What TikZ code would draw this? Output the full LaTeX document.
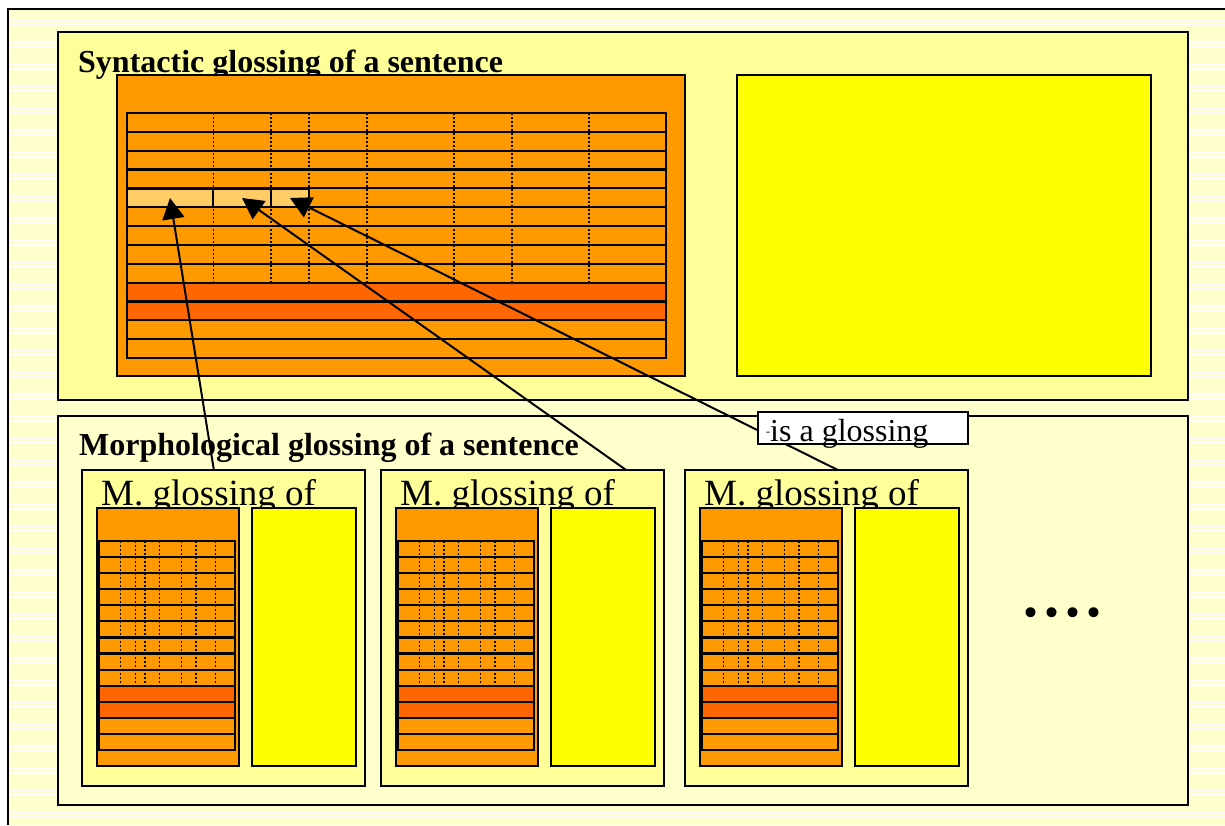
\documentclass[tikz,border=0pt]{standalone}
\usepackage{fontspec}
\setmainfont{Liberation Serif}
\usetikzlibrary{arrows.meta,calc,fit}
\definecolor{bgyel}{HTML}{FFFFCC}
\definecolor{paleyel}{HTML}{FFFF99}
\definecolor{orA}{HTML}{FF9900}
\definecolor{orD}{HTML}{FF6600}
\definecolor{orL}{HTML}{FFCC66}
\definecolor{yelB}{HTML}{FFFF00}
\tikzset{
 gbox/.style={draw=black, line width=2.5pt, inner sep=0pt, outer sep=0pt},
 gpanel/.style={gbox, fill=paleyel},
 gpanelL/.style={gbox, fill=bgyel},
 gorange/.style={gbox, fill=orA},
 gyellow/.style={gbox, fill=yelB},
 tline/.style={line width=2.2pt},
 dotline/.style={line width=1.4pt, dash pattern=on 2pt off 2pt},
 gcell/.style={draw, line width=2.2pt, fill=orL, inner sep=0pt, outer sep=0pt},
 glink/.style={line width=2pt, -{Triangle[length=21pt,width=22pt]}},
 gtitle/.style={font=\fontsize{32}{38}\selectfont\bfseries, anchor=base west, inner sep=0pt},
 gsub/.style={font=\fontsize{37}{40}\selectfont, anchor=base west, inner sep=0pt},
 glabbox/.style={draw, line width=1.4pt, fill=white, inner sep=0pt},
}
\newcommand\gtable[4]{%
  \pgfmathsetmacro\ga{#1}\pgfmathsetmacro\gb{#2}%
  \pgfmathsetmacro\gc{#3}\pgfmathsetmacro\gd{#4}%
  \pgfmathsetmacro\rh{(\gd-\gb)/13}%
  \pgfmathsetmacro\gw{\gc-\ga}%
  \fill[orA] (\ga,\gb) rectangle (\gc,\gd);
  \fill[orD] (\ga,{\gb+9*\rh}) rectangle (\gc,{\gb+11*\rh});
  \foreach \f in {0.16,0.267,0.338,0.445,0.607,0.714,0.857}
    \draw[dotline] ({\ga+\f*\gw},\gb) -- ({\ga+\f*\gw},{\gb+9*\rh});
  \foreach \i in {1,...,12} \draw[tline] (\ga,{\gb+\i*\rh}) -- (\gc,{\gb+\i*\rh});
  \draw[tline] (\ga,\gb) rectangle (\gc,\gd);
}
\begin{document}
\begin{tikzpicture}[x=1pt,y=-1pt]
\useasboundingbox (0,0) rectangle (1225,825);
\fill[white] (0,0) rectangle (1225,825);
% striped background
\fill[bgyel] (8,9) rectangle (1225,825);
\foreach \y in {11.5,15.9,...,825} \draw[white, line width=1.1pt] (8,\y) -- (1225,\y);
\draw[line width=2.5pt] (8,825) -- (8,9) -- (1225,9);

% syntactic panel
\node[gpanel, fit={(58,32) (1188,400)}] (top) {};
\node[gtitle] (ttop) at (78,72) {Syntactic glossing of a sentence};
\node[gorange, fit={(117,75) (685,376)}] (tor) {};
\gtable{127}{113}{666}{358}
\node[gcell, fit={(127,189) (213,207)}] (c1) {};
\node[gcell, fit={(213,189) (271,207)}] (c2) {};
\node[gcell, fit={(271,189) (309,207)}] (c3) {};
\node[gyellow, fit={(737,75) (1151,376)}] (tyel) {};

% morphological panel
\node[gpanelL, fit={(58,416) (1188,805)}] (bot) {};
\node[gtitle] (tbot) at (79,455) {Morphological glossing of a sentence};

\foreach \k/\dx in {1/0,2/299,3/603}{
  \node[gpanel, fit={(82+\dx,470) (365+\dx,786)}] (s\k) {};
  \node[gsub] (st\k) at (101+\dx,505) {M. glossing of};
  \node[gorange, fit={(97+\dx,508) (239+\dx,766)}] (so\k) {};
  \gtable{99+\dx}{541}{235+\dx}{750}
  \node[gyellow, fit={(252+\dx,508) (356+\dx,766)}] (sy\k) {};
}

\node[anchor=base west, inner sep=0pt, font=\fontsize{84}{84}\selectfont] (dots) at (1020,616) {....};

% connectors
\draw[glink] ($(s1.north west)!0.466!(s1.north east)$) -- (c1.center);
\draw[glink] ($(s2.north west)!0.866!(s2.north east)$) -- (c2.center);
\draw[glink] ($(s3.north west)!0.54!(s3.north east)$) -- (c3.center);

% label
\node[glabbox, fit={(758,412) (968,444)}] (lab) {};
\node[anchor=base west, inner sep=0pt, font=\fontsize{32}{38}\selectfont] (labt) at (766,441) {\raisebox{6pt}{\fontsize{12}{12}\selectfont -}is a glossing};
\end{tikzpicture}
\end{document}
